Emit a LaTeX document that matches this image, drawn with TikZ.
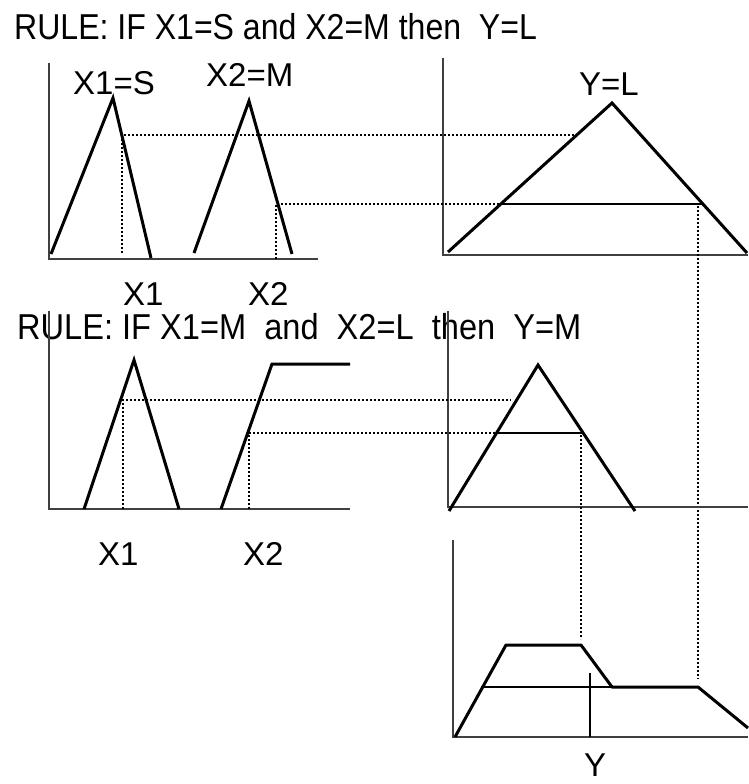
\documentclass[tikz,border=0pt]{standalone}
\usepackage{fontspec}
\setmainfont{Liberation Sans}
\begin{document}
\begin{tikzpicture}[x=1pt,y=-1pt,
  lbl/.style={anchor=base west,inner sep=0pt,font=\fontsize{33}{38}\selectfont},
  ttl/.style={anchor=base west,inner sep=0pt,font=\fontsize{36}{42}\selectfont},
  axisline/.style={line width=1.6pt,draw=black!75},
  mf/.style={line width=3pt},
  cutline/.style={line width=2pt},
  guide/.style={line width=2pt,dash pattern=on 2pt off 2pt}]
\useasboundingbox (0,0) rectangle (748,784);
% texts
\node[ttl] (t1) at (14,40) {\scalebox{0.89}[1]{RULE: IF X1=S and X2=M then\ \ Y=L}};
\node[ttl] (t2) at (17,339) {\scalebox{0.905}[1]{RULE: IF X1=M\ \ and\ \ X2=L\ \ then\ \ Y=M}};
\node[lbl] (l1) at (73,94) {X1=S};
\node[lbl] (l2) at (206,86) {X2=M};
\node[lbl] (l3) at (579,95) {Y=L};
\node[lbl] (x1a) at (123,305) {X1};
\node[lbl] (x2a) at (248,305) {X2};
\node[lbl] (x1b) at (98,565) {X1};
\node[lbl] (x2b) at (243,565) {X2};
\node[lbl] (yy) at (584,776) {Y};
% ---------- rule 1 ----------
\draw[axisline] (49,63) -- (49,259) -- (318,259);
\draw[axisline] (443,58) -- (443,255) -- (748,255);
\draw[mf] (51,254) -- (113,98) -- (151,258);
\draw[mf] (194,253) -- (249,101) -- (292,254);
\draw[mf] (448,252) -- (612,103) -- (747,253);
\coordinate (a1) at (122,135);
\coordinate (a2) at (575,135);
\coordinate (b1) at (276,204);
\coordinate (b2) at (502,204);
\coordinate (c1) at (702,204);
\draw[guide] (122,253) -- (a1) -- (a2);
\draw[guide] (276,259) -- (b1) -- (b2);
\draw[cutline] (b2) -- (c1);
\draw[guide] (698,206) -- (698,679);
% ---------- rule 2 ----------
\draw[axisline] (49,311) -- (49,509) -- (350,509);
\draw[axisline] (448,311) -- (448,507) -- (748,507);
\draw[mf] (84,509) -- (134,360) -- (179,509);
\draw[mf] (221,509) -- (272,364) -- (350,364);
\draw[mf] (449,511) -- (538,365) -- (635,511);
\coordinate (d1) at (123,400);
\coordinate (d2) at (511,400);
\coordinate (e1) at (249,433);
\coordinate (e2) at (497,433);
\coordinate (f1) at (582,433);
\draw[guide] (123,509) -- (d1) -- (d2);
\draw[guide] (249,509) -- (e1) -- (e2);
\draw[cutline] (e2) -- (f1);
\draw[guide] (581,435) -- (581,639);
% ---------- aggregate ----------
\draw[axisline] (453,540) -- (453,737) -- (748,737);
\draw[mf,line join=round] (455,737) -- (506,645) -- (581,645) -- (612,687) -- (698,687) -- (748,728);
\draw[cutline] (481,687) -- (612,687);
\draw[cutline] (590,673) -- (590,737);
\end{tikzpicture}
\end{document}
